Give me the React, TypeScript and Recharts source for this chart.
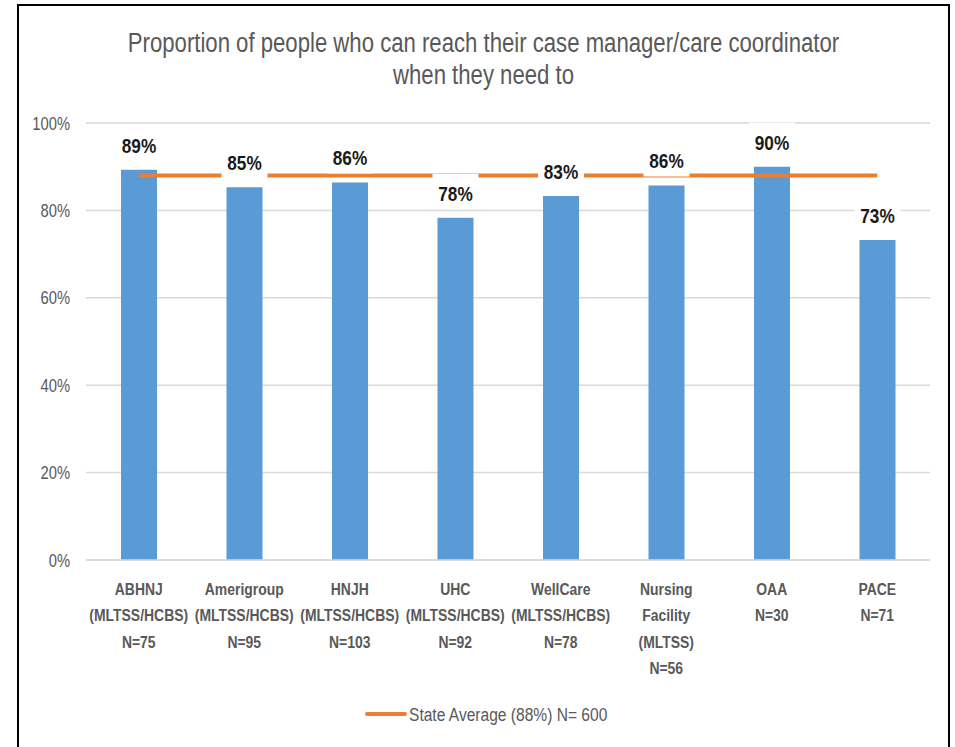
import React from 'react';
import { ComposedChart, Bar, Line, XAxis, YAxis, CartesianGrid, LabelList, Legend } from 'recharts';

const categories = ['ABHNJ', 'Amerigroup', 'HNJH', 'UHC', 'WellCare', 'Nursing Facility', 'OAA', 'PACE'];
const tickLabelLines = [
  ['ABHNJ', '(MLTSS/HCBS)', 'N=75'],
  ['Amerigroup', '(MLTSS/HCBS)', 'N=95'],
  ['HNJH', '(MLTSS/HCBS)', 'N=103'],
  ['UHC', '(MLTSS/HCBS)', 'N=92'],
  ['WellCare', '(MLTSS/HCBS)', 'N=78'],
  ['Nursing', 'Facility', '(MLTSS)', 'N=56'],
  ['OAA', 'N=30'],
  ['PACE', 'N=71'],
];
const rates = [89.3, 85.3, 86.4, 78.3, 83.3, 85.7, 90.0, 73.2];
const stateAverage = [88, 88, 88, 88, 88, 88, 88, 88];
const yTicks = [0, 20, 40, 60, 80, 100];
const titleLines = ['Proportion of people who can reach their case manager/care coordinator', 'when they need to'];
const legendLabel = 'State Average (88%) N= 600';

const data = categories.map((name, i) => ({ name, rate: rates[i], avg: stateAverage[i] }));

const FONT = "'Liberation Sans', Arial, sans-serif";
const SX = 0.82; // horizontal squeeze to approximate a narrow face
const GRAY = '#595959';
const BLUE = '#5B9BD5';
const ORANGE = '#ED7D31';

const NarrowText = ({ x, y, anchor = 'middle', size, weight = 'normal', fill, children }: any) => (
  <text
    transform={`translate(${x},${y}) scale(${SX},1)`}
    x={0}
    y={0}
    textAnchor={anchor}
    fontFamily={FONT}
    fontSize={size}
    fontWeight={weight}
    fill={fill}
  >
    {children}
  </text>
);

const CategoryTick = (props: any) => {
  const { x, y, payload } = props;
  const lines = tickLabelLines[payload.index] || [String(payload.value)];
  return (
    <g>
      {lines.map((ln: string, i: number) => (
        <NarrowText key={i} x={x} y={y + 35 + i * 26.3} size={17} weight="bold" fill={GRAY}>
          {ln}
        </NarrowText>
      ))}
    </g>
  );
};

const PercentTick = (props: any) => {
  const { x, y, payload } = props;
  return (
    <NarrowText x={x} y={y + 6.5} anchor="end" size={18} fill={GRAY}>
      {payload.value + '%'}
    </NarrowText>
  );
};

const ValueLabel = (props: any) => {
  const { x, y, width, value } = props;
  const cx = x + width / 2;
  const base = y - 17;
  return (
    <g>
      <rect x={cx - 23} y={base - 27} width={46} height={35} fill="#ffffff" />
      <NarrowText x={cx} y={base} size={21} weight="bold" fill="#1a1a1a">
        {Math.round(Number(value)) + '%'}
      </NarrowText>
    </g>
  );
};

const LegendContent = () => (
  <svg width={955} height={30} style={{ display: 'block' }}>
    <line x1={367} y1={15} x2={405} y2={15} stroke={ORANGE} strokeWidth={4} strokeLinecap="round" />
    <NarrowText x={409} y={21.5} anchor="start" size={19} fill={GRAY}>
      {legendLabel}
    </NarrowText>
  </svg>
);

export default function App() {
  return (
    <div style={{ position: 'absolute', left: 0, top: 0, width: 955, height: 747, overflow: 'hidden', background: '#fff' }}>
      <div style={{ position: 'absolute', left: 17, top: 4, width: 933, height: 800, border: '2px solid #000', boxSizing: 'border-box' }} />
      <div
        style={{
          position: 'absolute',
          left: 17,
          top: 27,
          width: 933,
          textAlign: 'center',
          fontFamily: FONT,
          fontSize: 27,
          color: GRAY,
          lineHeight: '32px',
          transform: `scaleX(${SX})`,
          transformOrigin: '50% 50%',
        }}
      >
        {titleLines.map((t, i) => (
          <div key={i} style={{ whiteSpace: 'nowrap' }}>{t}</div>
        ))}
      </div>
      <div style={{ position: 'absolute', left: 0, top: 0 }}>
        <ComposedChart width={955} height={747} data={data} margin={{ top: 123, right: 25, left: 0, bottom: 18 }}>
          <CartesianGrid vertical={false} stroke="#d9d9d9" strokeWidth={1.5} />
          <XAxis
            dataKey="name"
            height={139}
            tickLine={false}
            tickSize={0}
            tickMargin={0}
            axisLine={{ stroke: '#d9d9d9', strokeWidth: 1.5 }}
            tick={<CategoryTick />}
            interval={0}
          />
          <XAxis xAxisId="lbl" dataKey="name" hide />
          <YAxis
            domain={[0, 100]}
            ticks={yTicks}
            width={86}
            tickLine={false}
            axisLine={false}
            tickSize={0}
            tickMargin={16}
            tick={<PercentTick />}
          />
          <Bar dataKey="rate" fill={BLUE} barSize={36} isAnimationActive={false} legendType="none" />
          <Line dataKey="avg" stroke={ORANGE} strokeWidth={4} dot={false} activeDot={false} isAnimationActive={false} />
          <Bar xAxisId="lbl" dataKey="rate" fill="transparent" barSize={36} isAnimationActive={false} legendType="none">
            <LabelList dataKey="rate" content={<ValueLabel />} />
          </Bar>
          <Legend verticalAlign="bottom" content={<LegendContent />} wrapperStyle={{ left: 0, width: 955, height: 30 }} />
        </ComposedChart>
      </div>
    </div>
  );
}
